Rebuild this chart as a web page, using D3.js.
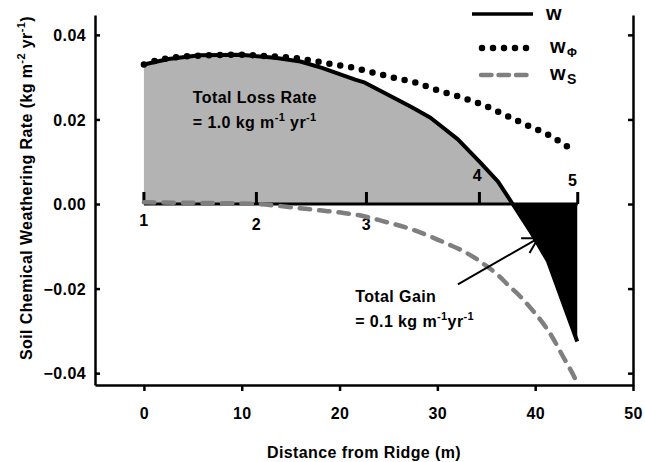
<!DOCTYPE html>
<html>
<head>
<meta charset="utf-8">
<script src="https://cdn.jsdelivr.net/npm/d3@7"></script>
<style>
  body { margin: 0; background: #fff; }
  svg { display: block; font-family: "Liberation Sans", Arial, sans-serif; font-weight: bold; }
  text { letter-spacing: 0.4px; }
</style>
</head>
<body>
<svg id="chart" width="645" height="462"></svg>
<script>
// total weathering rate w (solid)
const distW = [0, 2.5, 5.7, 9.8, 13.4, 16.0, 18.2, 21.6, 22.6, 27.3, 29.3, 32.1, 34.4, 36.2, 37.7, 39.5, 41.3, 44.3];
const rateW = [0.0330, 0.0343, 0.0352, 0.0353, 0.0346, 0.0337, 0.0322, 0.0294, 0.0287, 0.0230, 0.0204, 0.0153, 0.0098, 0.0053, 0.0, -0.0064, -0.0135, -0.0325];

// w_phi (dotted)
const distPhi = [0, 1.6, 5.7, 9.8, 13.1, 15.5, 17.7, 19.9, 21.1, 23.4, 25.5, 27.8, 30.0, 32.2, 34.6, 36.8, 39.0, 41.3, 43.4];
const ratePhi = [0.0330, 0.0341, 0.0351, 0.0353, 0.0349, 0.0345, 0.0337, 0.0328, 0.0324, 0.0311, 0.0299, 0.0287, 0.0269, 0.0254, 0.0235, 0.0212, 0.0188, 0.0164, 0.0134];

// w_s (dashed)
const distS = [0, 4, 8, 11.5, 14, 15.6, 18, 20.4, 22.7, 24.5, 27, 29.3, 31, 32.7, 34, 35.1, 36.2, 37.2, 38.4, 39.5, 40.6, 41.6, 42.9, 43.8, 44.4];
const rateS = [0.0004, 0.0003, 0.0002, 0.0, -0.0005, -0.0009, -0.0015, -0.0021, -0.0030, -0.0041, -0.0057, -0.0077, -0.0094, -0.0112, -0.0130, -0.0148, -0.0168, -0.0191, -0.0217, -0.0245, -0.0276, -0.0309, -0.0363, -0.0400, -0.0428];

// sampling points along the transect
const siteDist = [0, 11.5, 22.75, 34.3, 44.35];
const siteLabels = ['1', '2', '3', '4', '5'];

const xTicks = [0, 10, 20, 30, 40, 50];
const yTicks = [-0.04, -0.02, 0, 0.02, 0.04];

const svg = d3.select('#chart');
const x = d3.scaleLinear().domain([-5, 50]).range([95, 633]);
const y = d3.scaleLinear().domain([-0.0428, 0.0447]).range([385, 15]);

const W = distW.map((d, i) => ({ x: d, y: rateW[i] }));
const Phi = distPhi.map((d, i) => ({ x: d, y: ratePhi[i] }));
const S = distS.map((d, i) => ({ x: d, y: rateS[i] }));

// filled areas
const area = d3.area().x(d => x(d.x)).y0(y(0)).y1(d => y(d.y));
svg.append('path').datum(W.filter(d => d.y >= 0)).attr('d', area).attr('fill', '#b3b3b3');
svg.append('path').datum(W.filter(d => d.y <= 0)).attr('d', area).attr('fill', '#000');

// zero line with site ticks
svg.append('line')
  .attr('x1', x(0)).attr('x2', x(siteDist[4]))
  .attr('y1', y(0)).attr('y2', y(0))
  .attr('stroke', '#000').attr('stroke-width', 3);
svg.selectAll('.site').data(siteDist).enter().append('line')
  .attr('x1', d => x(d)).attr('x2', d => x(d))
  .attr('y1', y(0)).attr('y2', y(0) - 12)
  .attr('stroke', '#000').attr('stroke-width', 3);

const siteOff = [[0, 22], [0, 26], [0, 26], [-2, -23], [-5, -18]];
svg.selectAll('.siteLabel').data(siteLabels).enter().append('text')
  .attr('x', (d, i) => x(siteDist[i]) + siteOff[i][0])
  .attr('y', (d, i) => y(0) + siteOff[i][1])
  .attr('text-anchor', 'middle')
  .attr('font-size', 16)
  .text(d => d);

// axes
const gx = svg.append('g').attr('transform', 'translate(0,385)')
  .call(d3.axisBottom(x).tickValues(xTicks).tickSize(6).tickPadding(17).tickSizeOuter(0));
const gy = svg.append('g').attr('transform', 'translate(95,0)')
  .call(d3.axisLeft(y).tickValues(yTicks).tickSize(-5).tickPadding(9).tickSizeOuter(0).tickFormat(d3.format('.2f')));
const gr = svg.append('g').attr('transform', 'translate(633,0)')
  .call(d3.axisRight(y).tickValues(yTicks).tickSize(-5).tickSizeOuter(0).tickFormat(''));
[gx, gy, gr].forEach(g => {
  g.select('.domain').attr('stroke-width', 2.5);
  g.selectAll('.tick line').attr('stroke-width', 2.5);
  g.selectAll('text').attr('font-size', 16).attr('font-family', null).attr('fill', '#000');
});
gy.selectAll('text').attr('dy', '0.36em');

// lines
const line = d3.line().x(d => x(d.x)).y(d => y(d.y));
svg.append('path').datum(S)
  .attr('d', line.curve(d3.curveMonotoneX))
  .attr('fill', 'none').attr('stroke', '#7f7f7f').attr('stroke-width', 4.5)
  .attr('stroke-dasharray', '10.5 9').attr('stroke-linecap', 'round');
svg.append('path').datum(W)
  .attr('d', line.curve(d3.curveLinear))
  .attr('fill', 'none').attr('stroke', '#000').attr('stroke-width', 4).attr('stroke-linejoin', 'round');
svg.append('path').datum(Phi)
  .attr('d', line.curve(d3.curveMonotoneX))
  .attr('fill', 'none').attr('stroke', '#000').attr('stroke-width', 6.5)
  .attr('stroke-dasharray', '0 11').attr('stroke-linecap', 'round');

// arrow to the gain area
const a0 = [x(32.1), y(-0.0190)], a1 = [x(40.3), y(-0.0081)];
const ang = Math.atan2(a0[1] - a1[1], a0[0] - a1[0]);
svg.append('line').attr('x1', a0[0]).attr('y1', a0[1]).attr('x2', a1[0]).attr('y2', a1[1])
  .attr('stroke', '#000').attr('stroke-width', 2);
[-0.52, 0.52].forEach(da => {
  svg.append('line').attr('x1', a1[0]).attr('y1', a1[1])
    .attr('x2', a1[0] + 17 * Math.cos(ang + da)).attr('y2', a1[1] + 17 * Math.sin(ang + da))
    .attr('stroke', '#000').attr('stroke-width', 2);
});

// annotations
function supText(tx, ty, parts) {
  const t = svg.append('text').attr('x', tx).attr('y', ty).attr('font-size', 16);
  parts.forEach(p => {
    t.append('tspan').attr('dy', p[1]).attr('font-size', p[2]).text(p[0]);
  });
  return t;
}
svg.append('text').attr('x', x(5.0)).attr('y', y(0.0238)).attr('font-size', 16).text('Total Loss Rate');
supText(x(5.0), y(0.0179), [['= 1.0 kg m', 0, 16], ['-1', -7, 11], [' yr', 7, 16], ['-1', -7, 11]]);
svg.append('text').attr('x', x(21.6)).attr('y', y(-0.0231)).attr('font-size', 16).text('Total Gain');
supText(x(21.6), y(-0.0290), [['= 0.1 kg m', 0, 16], ['-1', -7, 11], ['yr', 7, 16], ['-1', -7, 11]]);

// axis titles
svg.append('text').attr('x', 364).attr('y', 458).attr('text-anchor', 'middle')
  .attr('font-size', 16).text('Distance from Ridge (m)');
const yt = svg.append('text').attr('transform', 'translate(32,188) rotate(-90)')
  .attr('text-anchor', 'middle').attr('font-size', 16);
yt.append('tspan').text('Soil Chemical Weathering Rate (kg m');
yt.append('tspan').attr('dy', -7).attr('font-size', 11).text('-2');
yt.append('tspan').attr('dy', 7).text(' yr');
yt.append('tspan').attr('dy', -7).attr('font-size', 11).text('-1');
yt.append('tspan').attr('dy', 7).text(')');

// legend
const lg = svg.append('g');
lg.append('line').attr('x1', 472).attr('x2', 533).attr('y1', 14).attr('y2', 14)
  .attr('stroke', '#000').attr('stroke-width', 3.5);
lg.append('line').attr('x1', 482).attr('x2', 527).attr('y1', 48).attr('y2', 48)
  .attr('stroke', '#000').attr('stroke-width', 6.5)
  .attr('stroke-dasharray', '0 11').attr('stroke-linecap', 'round');
lg.append('line').attr('x1', 481).attr('x2', 528).attr('y1', 75).attr('y2', 75)
  .attr('stroke', '#7f7f7f').attr('stroke-width', 4.5)
  .attr('stroke-dasharray', '10.5 7').attr('stroke-linecap', 'round');
const legendText = [['', 546, 20], ['Φ', 550, 52.5], ['S', 550, 80]];
legendText.forEach(([sub, lx, ly]) => {
  const t = lg.append('text').attr('x', lx).attr('y', ly).attr('font-size', 20).text('w');
  if (sub) t.append('tspan').attr('dx', 1).attr('dy', 4).attr('font-size', sub === 'S' ? 14 : 12).text(sub);
});
</script>
</body>
</html>
